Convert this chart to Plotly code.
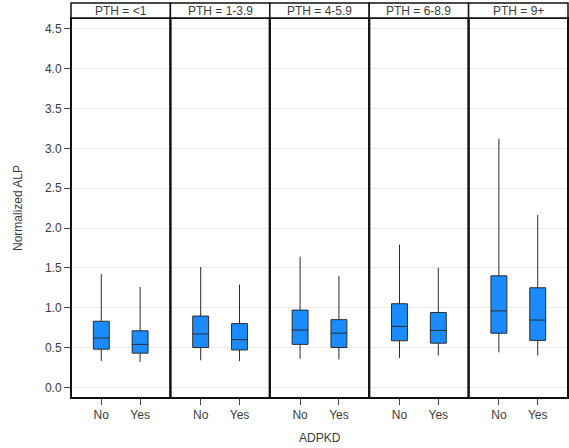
import plotly.graph_objects as go
from plotly.subplots import make_subplots

# PTH strata (panel headers) and ADPKD groups
pth_groups = ["PTH = <1", "PTH = 1-3.9", "PTH = 4-5.9", "PTH = 6-8.9", "PTH = 9+"]
adpkd = ["No", "Yes"]

# Box summary statistics of normalized ALP, one list per PTH stratum: [No, Yes]
lower_whisker = [[0.33, 0.32], [0.34, 0.33], [0.36, 0.35], [0.37, 0.40], [0.44, 0.40]]
q1 = [[0.48, 0.43], [0.50, 0.47], [0.54, 0.50], [0.585, 0.555], [0.68, 0.59]]
median = [[0.62, 0.54], [0.67, 0.60], [0.72, 0.68], [0.765, 0.715], [0.96, 0.845]]
q3 = [[0.83, 0.71], [0.895, 0.80], [0.97, 0.85], [1.05, 0.94], [1.40, 1.25]]
upper_whisker = [[1.425, 1.26], [1.51, 1.29], [1.64, 1.40], [1.79, 1.50], [3.12, 2.165]]

y_ticks = [0.0, 0.5, 1.0, 1.5, 2.0, 2.5, 3.0, 3.5, 4.0, 4.5]

W, H = 569, 448
L, R, T, B = 71, 1, 18, 50
plot_h = H - T - B
n = len(pth_groups)

fig = make_subplots(rows=1, cols=n, shared_yaxes=True, horizontal_spacing=0)

font_family = "Liberation Sans, Arial, sans-serif"
text_color = "#3c3c3c"

for i in range(n):
    fig.add_trace(
        go.Box(
            x=adpkd,
            q1=q1[i],
            median=median[i],
            q3=q3[i],
            lowerfence=lower_whisker[i],
            upperfence=upper_whisker[i],
            width=0.41,
            whiskerwidth=0,
            fillcolor="#1a8cff",
            line=dict(color="#2b2b2b", width=1),
            showlegend=False,
            hoverinfo="skip",
        ),
        row=1,
        col=i + 1,
    )
    fig.update_xaxes(
        type="category",
        range=[-0.78, 1.78],
        showgrid=False,
        showline=False,
        zeroline=False,
        ticks="outside",
        ticklen=6,
        tickwidth=1,
        tickcolor="#444444",
        tickfont=dict(family=font_family, size=12, color=text_color),
        row=1,
        col=i + 1,
    )

    # panel frame
    x0 = i / n
    x1 = (i + 1) / n
    fig.add_shape(
        type="rect", xref="paper", yref="paper",
        x0=x0, x1=x1, y0=0, y1=1,
        line=dict(color="#111111", width=2), fillcolor="rgba(0,0,0,0)",
        layer="above",
    )
    # header strip
    fig.add_shape(
        type="rect", xref="paper", yref="paper",
        x0=x0, x1=x1, y0=1, y1=1 + 15 / plot_h,
        line=dict(color="#111111", width=1.5), fillcolor="white",
        layer="above",
    )
    fig.add_annotation(
        text=pth_groups[i], xref="paper", yref="paper",
        x=(x0 + x1) / 2, y=1 + 7.5 / plot_h, xanchor="center", yanchor="middle",
        showarrow=False, font=dict(family=font_family, size=12, color=text_color),
    )

fig.update_yaxes(
    range=[-0.133, 4.635],
    tickvals=y_ticks,
    tickformat=".1f",
    showgrid=True,
    gridcolor="#ececec",
    gridwidth=1,
    zeroline=False,
    showline=False,
)
fig.update_yaxes(
    ticks="outside", ticklen=6, tickwidth=1, tickcolor="#444444",
    tickfont=dict(family=font_family, size=12, color=text_color),
    row=1, col=1,
)

# axis titles
fig.add_annotation(
    text="Normalized ALP", xref="paper", yref="paper",
    x=(18 - L) / (W - L - R), y=0.5, xanchor="center", yanchor="middle",
    textangle=-90, showarrow=False,
    font=dict(family=font_family, size=12, color=text_color),
)
fig.add_annotation(
    text="ADPKD", xref="paper", yref="paper",
    x=0.5, y=-(438 - (H - B)) / plot_h, xanchor="center", yanchor="middle",
    showarrow=False,
    font=dict(family=font_family, size=12, color=text_color),
)

fig.update_layout(
    width=W,
    height=H,
    margin=dict(l=L, r=R, t=T, b=B),
    plot_bgcolor="white",
    paper_bgcolor="white",
    boxmode="group",
)

fig.write_html("out.html")
